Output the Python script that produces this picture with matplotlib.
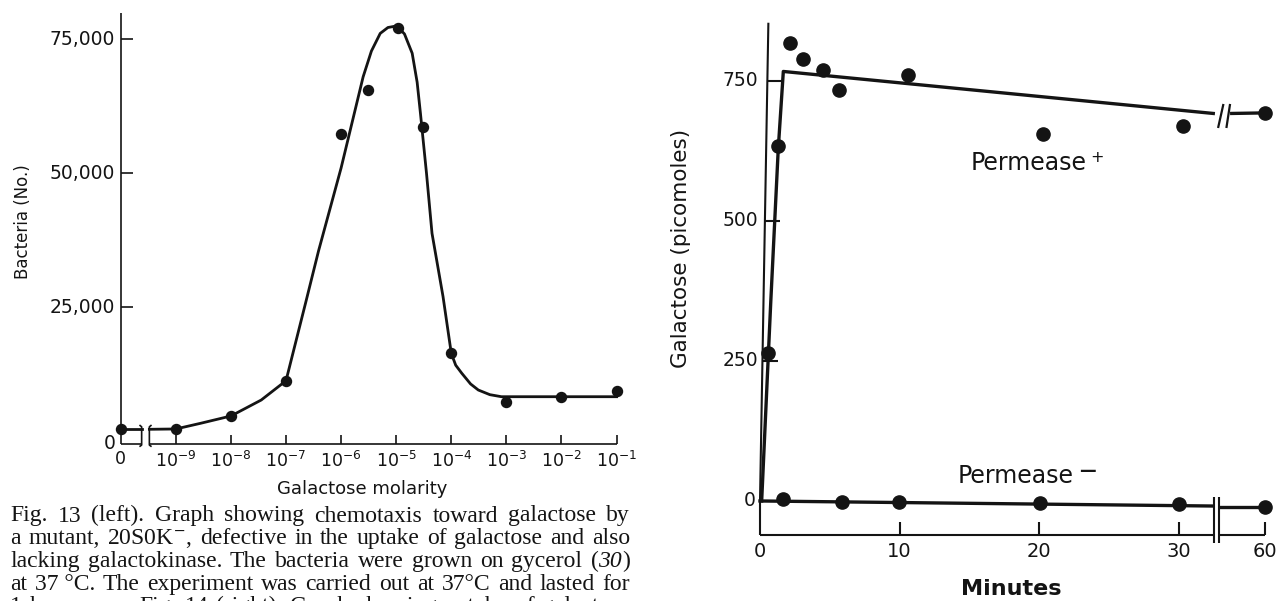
import numpy as np
import matplotlib
matplotlib.use("Agg")
import matplotlib.pyplot as plt

W, H = 1276, 601
INK = '#141414'

# ---------------- Fig. 13: bacteria vs galactose molarity ----------------
# x is log10(molarity); the "0" column is drawn one decade left of 1e-9
conc_pos = [-10, -9, -8, -7, -6, -5, -4, -3, -2, -1]
conc_labels = ['0', '$10^{-9}$', '$10^{-8}$', '$10^{-7}$', '$10^{-6}$', '$10^{-5}$',
               '$10^{-4}$', '$10^{-3}$', '$10^{-2}$', '$10^{-1}$']
bact_ticks = [0, 25000, 50000, 75000]
bact_tick_labels = ['0', '25,000', '50,000', '75,000']

bact_x = [-10, -9, -8, -7, -6, -5.51, -4.97, -4.52, -4, -3, -2, -1]
bact_y = [2240, 2300, 4720, 11300, 57300, 65500, 77200, 58700, 16400, 7400, 8300, 9400]

# hand drawn curve, knots
curve0_x = [-10, -9.62]
curve0_y = [2240, 2240]
curve_x = [-9.48, -9, -8.55, -8, -7.45, -7, -6.64, -6.41, -6, -5.6, -5.45, -5.29, -5.15,
           -4.99, -4.85, -4.71, -4.62, -4.56, -4.45, -4.35, -4.15, -4, -3.92, -3.81,
           -3.65, -3.51, -3.3, -3.09, -1]
curve_y = [2240, 2300, 3360, 4720, 7700, 11300, 26000, 35500, 51000, 68000, 72800, 76100,
           77200, 77500, 76000, 72400, 67000, 61200, 50000, 38800, 27000, 16400, 14200,
           12700, 10700, 9570, 8700, 8320, 8320]

# ---------------- Fig. 14: galactose uptake vs minutes ----------------
minute_ticks = [0, 10, 20, 30, 60]
gal_ticks = [0, 250, 500, 750]

time_plus = [0.6, 1.31, 2.15, 3.10, 4.53, 5.65, 10.57, 20.28, 30.25, 60]
gal_plus = [265, 634, 817, 790, 770, 734, 761, 655, 670, 693]
fit_plus_t = [0.12, 0.77, 1.31, 1.67, 32.45]
fit_plus_v = [0, 355, 630, 767, 692]
fit_plus_after = [692, 693]

time_minus = [1.67, 5.9, 9.98, 20.04, 30.0, 60]
gal_minus = [3, -2, -1, -3, -5, -10]
fit_minus_t = [0, 32.35]
fit_minus_v = [0, -9]
fit_minus_after = [-10, -10]

POS60 = 36.16          # where "60" sits after the axis break
BRK = (32.5, 32.88)    # axis break


def tpos(t):
    t = np.asarray(t, dtype=float)
    return np.where(t >= 59, POS60, t)


def fx(px):
    return px / W


def fy(py):
    return 1 - py / H


fig = plt.figure(figsize=(W / 100, H / 100), dpi=100)
fig.patch.set_facecolor('white')

# ---------------- left panel ----------------
ax1 = fig.add_axes([100 / W, 1 - 470 / H, 540 / W, 470 / H])
ax1.set_xlim(-10.376, -0.575)
ax1.set_ylim(-5354, 82332)
ax1.axis('off')

base1 = -504
kw = dict(color=INK, lw=1.2, clip_on=False, solid_capstyle='butt')
ax1.plot([-10, -10], [base1, 79900], **kw)
ax1.plot([-10, -9.62], [base1, base1], **kw)
ax1.plot([-9.48, -1], [base1, base1], **kw)
for xb, d in [(-9.62, -0.04), (-9.48, 0.04)]:
    ax1.plot([xb + d, xb, xb, xb + d], [3040, 2700, -700, -1006], **kw)
for v in bact_ticks[1:]:
    ax1.plot([-10, -9.77], [v, v], **kw)
for x in conc_pos[1:]:
    ax1.plot([x, x], [base1, 1173], **kw)

ax1.plot(curve0_x, curve0_y, color=INK, lw=2.0, clip_on=False)
ax1.plot(curve_x, curve_y, color=INK, lw=2.0, clip_on=False)
ax1.plot(bact_x, bact_y, 'o', color=INK, ms=7.2, clip_on=False)

for v, lab in zip(bact_ticks, bact_tick_labels):
    ax1.text(-10.1, v if v else -500, lab, ha='right', va='center', fontsize=13.5, color=INK)
for x, lab in zip(conc_pos, conc_labels):
    ax1.text(x, -1700, lab, ha='center', va='top', fontsize=12.5, color=INK,
             math_fontfamily='dejavusans')

fig.text(fx(23), fy(222), 'Bacteria (No.)', rotation=90, ha='center', va='center',
         fontsize=12, color=INK)
fig.text(fx(362), fy(489), 'Galactose molarity', ha='center', va='center',
         fontsize=13, color=INK)

# ---------------- right panel ----------------
ax2 = fig.add_axes([700 / W, 1 - 560 / H, 576 / W, 560 / H])
ax2.set_xlim(-4.295, 36.94)
ax2.set_ylim(-105.4, 894.6)
ax2.axis('off')

base2 = -60.7
kw2 = dict(color=INK, lw=1.5, clip_on=False, solid_capstyle='butt')
ax2.plot([0, 0.6], [0, 854], **kw2)                # slightly leaning y axis
ax2.plot([0, 0], [0, base2], **kw2)
ax2.plot([0, BRK[0]], [base2, base2], **kw2)
ax2.plot([BRK[1], POS60], [base2, base2], **kw2)
for xb in BRK:
    ax2.plot([xb, xb], [7.7, -75], **kw2)
for v in gal_ticks[1:]:
    xa = 0.6 * v / 854
    ax2.plot([xa, xa + 1.1], [v, v], **kw2)
for t in minute_ticks[1:]:
    ax2.plot([tpos(t), tpos(t)], [base2, -37], **kw2)

# fitted lines
ax2.plot(fit_plus_t, fit_plus_v, color=INK, lw=2.4, clip_on=False)
ax2.plot([33.77, POS60], fit_plus_after, color=INK, lw=2.4, clip_on=False)
ax2.plot([32.81, 33.16], [668, 707], color=INK, lw=1.6)
ax2.plot([33.4, 33.64], [668, 707], color=INK, lw=1.6)
ax2.plot(fit_minus_t, fit_minus_v, color=INK, lw=2.4, clip_on=False)
ax2.plot([BRK[1] + 0.05, POS60], fit_minus_after, color=INK, lw=2.4, clip_on=False)

ax2.plot(tpos(time_plus), gal_plus, 'o', color=INK, ms=9.5, clip_on=False)
ax2.plot(tpos(time_minus), gal_minus, 'o', color=INK, ms=9.5, clip_on=False)

for v in gal_ticks:
    ax2.text(-0.1 if v else -0.3, v, str(v), ha='right', va='center', fontsize=13.5,
             color=INK)
for t in minute_ticks:
    ax2.text(tpos(t), -90, str(t), ha='center', va='center', fontsize=14, color=INK)

fig.text(fx(681), fy(248), 'Galactose (picomoles)', rotation=90, ha='center',
         va='center', fontsize=15.5, color=INK)
fig.text(fx(1011), fy(589), 'Minutes', ha='center', va='center', fontsize=16,
         fontweight='bold', color=INK)
fig.text(fx(971), fy(163), 'Permease', ha='left', va='center', fontsize=17, color=INK)
fig.text(fx(1090), fy(157), '+', ha='left', va='center', fontsize=11.5, color=INK)
fig.text(fx(958), fy(476), 'Permease', ha='left', va='center', fontsize=17, color=INK)
fig.text(fx(1079), fy(471), '\u2014', ha='left', va='center', fontsize=12,
         fontweight='bold', color=INK)

# ---------------- caption (justified) ----------------
# a word is a string, or a list of (piece, style) glued together
caption_lines = [
    ['Fig.', '13', '(left).', 'Graph', 'showing', 'chemotaxis', 'toward', 'galactose', 'by'],
    ['a', 'mutant,', '20S0K$^{-}$,', 'defective', 'in', 'the', 'uptake', 'of', 'galactose',
     'and', 'also'],
    ['lacking', 'galactokinase.', 'The', 'bacteria', 'were', 'grown', 'on', 'gycerol',
     [('(', 'normal'), ('30', 'italic'), (')', 'normal')]],
    ['at', '37 \u00b0C.', 'The', 'experiment', 'was', 'carried', 'out', 'at', '37\u00b0C',
     'and', 'lasted', 'for'],
    ['1', 'hour.', '\u2014\u2014', 'Fig.', '14', '(right).', 'Graph', 'showing', 'uptake',
     'of', 'galactose'],
]
baselines = [521.5, 544.2, 566.9, 589.6, 612.3]
cap_left, cap_right = 10, 630
cap_font = dict(fontsize=17, va='baseline', color=INK,
                family=['Liberation Serif', 'DejaVu Serif'], math_fontfamily='stix')

renderer = fig.canvas.get_renderer()
for toks, base in zip(caption_lines, baselines):
    words = []
    for tok in toks:
        pieces = tok if isinstance(tok, list) else [(tok, 'normal')]
        arts = [fig.text(0, fy(base), p, style=s, **cap_font) for p, s in pieces]
        ws = [a.get_window_extent(renderer).width for a in arts]
        words.append((arts, ws))
    total = sum(sum(ws) for _, ws in words)
    gap = max((cap_right - cap_left - total) / (len(words) - 1), 3)
    x = cap_left
    for arts, ws in words:
        for a, w in zip(arts, ws):
            a.set_x(fx(x))
            x += w
        x += gap

fig.savefig('out.png', dpi=100, facecolor='white')
